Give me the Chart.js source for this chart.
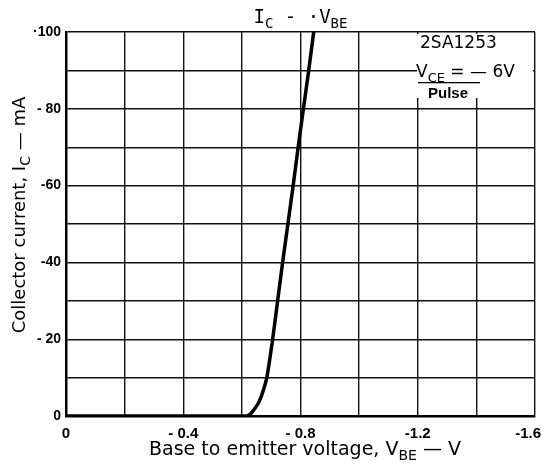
<!DOCTYPE html>
<html>
<head>
<meta charset="utf-8">
<script src="https://cdn.jsdelivr.net/npm/chart.js@4/dist/chart.umd.min.js"></script>
<style>
    html, body { margin: 0; padding: 0; background: #fff; }
    #wrap { width: 542px; height: 466px; position: relative; }
</style>
</head>
<body>
<div id="wrap"><canvas id="icVbeChart"></canvas></div>
<script>
// Base-emitter voltage (V) and collector current (mA)
const vbe = [0, -0.3, -0.6, -0.615, -0.622, -0.63, -0.64, -0.655, -0.668, -0.685, -0.705, -0.722, -0.739, -0.757, -0.775, -0.792, -0.81, -0.828, -0.845];
const ic = [0, 0, 0, 0, -0.2, -0.6, -1.5, -3.2, -5.5, -10, -20, -30, -40, -50, -60, -70, -80, -90, -100];

const xGridValues = [0, -0.2, -0.4, -0.6, -0.8, -1.0, -1.2, -1.4, -1.6];
const xTickValues = [0, -0.4, -0.8, -1.2, -1.6];
const xTickText = ["0", "- 0.4", "- 0.8", "-1.2", "-1.6"];

const yGridValues = [0, -10, -20, -30, -40, -50, -60, -70, -80, -90, -100];
const yTickValues = [0, -20, -40, -60, -80, -100];
const yTickText = ["0", "- 20", "-40", "-60", "- 80", "·100"];

const partNumber = "2SA1253";
const conditionText = "Pulse";

const fontThin = "'DejaVu Sans', sans-serif";
const fontMono = "'DejaVu Sans Mono', monospace";
const fontBody = "'DejaVu Sans', sans-serif";
const fontTicks = "'Liberation Sans', Arial, sans-serif";

function tickLabel(value, values, texts) {
    const idx = values.findIndex((v) => Math.abs(v - value) < 1e-6);
    return idx >= 0 ? texts[idx] : "";
}

// draws text made of normal and subscript parts
function drawParts(ctx, parts, x, y, size, family, align) {
    const fontOf = (p) => `${p.bold ? "bold " : ""}${p.sub ? Math.round(size * 0.75) : size}px ${family}`;
    const widths = parts.map((p) => {
        ctx.font = fontOf(p);
        return ctx.measureText(p.t).width;
    });
    const total = widths.reduce((a, b) => a + b, 0);
    let cx = align === "center" ? x - total / 2 : x;

    parts.forEach((p, i) => {
        ctx.font = fontOf(p);
        ctx.fillText(p.t, cx, p.sub ? y + size * 0.28 : y);
        cx += widths[i];
    });
}

const labelsPlugin = {
    id: "labelsPlugin",
    afterDraw(chart) {
        const ctx = chart.ctx;
        const area = chart.chartArea;
        const xScale = chart.scales.x;

        ctx.save();
        ctx.fillStyle = "#000";
        ctx.textBaseline = "alphabetic";
        ctx.textAlign = "left";

        // x tick labels, the last one kept inside the canvas
        ctx.font = `bold 15px ${fontTicks}`;
        xTickValues.forEach((v, i) => {
            const px = xScale.getPixelForValue(v);
            const last = i === xTickValues.length - 1;
            ctx.textAlign = last ? "right" : "center";
            ctx.fillText(xTickText[i], last ? px + 6 : px, 438);
        });
        ctx.textAlign = "left";

        // title
        drawParts(ctx, [
            { t: "I" }, { t: "C", sub: true }, { t: " - ·V" }, { t: "BE", sub: true },
        ], (area.left + area.right) / 2, 23, 19, fontMono, "center");

        // x axis title
        drawParts(ctx, [
            { t: "Base to emitter voltage, V" }, { t: "BE", sub: true }, { t: " \u2014 V" },
        ], 305, 455, 19, fontBody, "center");

        // y axis title
        ctx.save();
        ctx.translate(25, 215);
        ctx.rotate(-Math.PI / 2);
        drawParts(ctx, [
            { t: "Collector current, I" }, { t: "C", sub: true }, { t: " \u2014 mA" },
        ], 0, 0, 18, fontBody, "center");
        ctx.restore();

        // condition box in the top right corner
        ctx.fillStyle = "#fff";
        ctx.fillRect(417, area.top + 2, area.right - 419, 64);
        ctx.fillStyle = "#000";
        ctx.font = `17px ${fontThin}`;
        ctx.fillText(partNumber, 420, 48);
        drawParts(ctx, [
            { t: "V" }, { t: "CE", sub: true }, { t: " = \u2014 6V" },
        ], 416, 77, 17, fontThin, "left");
        ctx.fillRect(418, 82, 62, 1.3);
        ctx.font = `bold 15px ${fontTicks}`;
        ctx.fillText(conditionText, 428, 98);

        ctx.restore();
    },
};

const ctx = document.getElementById("icVbeChart").getContext("2d");

new Chart(ctx, {
    type: "scatter",
    data: {
        datasets: [{
            label: "IC - VBE",
            data: vbe.map((v, i) => ({ x: v, y: ic[i] })),
            showLine: true,
            borderColor: "#000",
            borderWidth: 3.5,
            pointRadius: 0,
            tension: 0.2,
        }],
    },
    options: {
        responsive: true,
        maintainAspectRatio: false,
        animation: false,
        layout: { padding: { top: 32, right: 7, left: 0, bottom: 0 } },
        plugins: {
            legend: { display: false },
            tooltip: { enabled: false },
        },
        scales: {
            x: {
                type: "linear",
                min: -1.6,
                max: 0,
                reverse: true,
                afterBuildTicks: (scale) => {
                    scale.ticks = xGridValues.map((v) => ({ value: v }));
                },
                afterFit: (scale) => {
                    scale.height = 50;
                    scale.paddingLeft = 0;
                    scale.paddingRight = 0;
                },
                grid: { color: "#111", lineWidth: 1.4, drawTicks: false },
                border: { color: "#000", width: 2.5 },
                ticks: {
                    padding: 8,
                    autoSkip: false,
                    maxRotation: 0,
                    callback: () => "",
                },
            },
            y: {
                type: "linear",
                min: -100,
                max: 0,
                reverse: true,
                afterBuildTicks: (scale) => {
                    scale.ticks = yGridValues.map((v) => ({ value: v }));
                },
                afterFit: (scale) => { scale.width = 66; },
                grid: { color: "#111", lineWidth: 1.4, drawTicks: false },
                border: { color: "#000", width: 2.5 },
                ticks: {
                    padding: 5,
                    color: "#000",
                    autoSkip: false,
                    font: { family: fontTicks, size: 14, weight: "bold" },
                    callback: (value) => tickLabel(value, yTickValues, yTickText),
                },
            },
        },
    },
    plugins: [labelsPlugin],
});
</script>
</body>
</html>
